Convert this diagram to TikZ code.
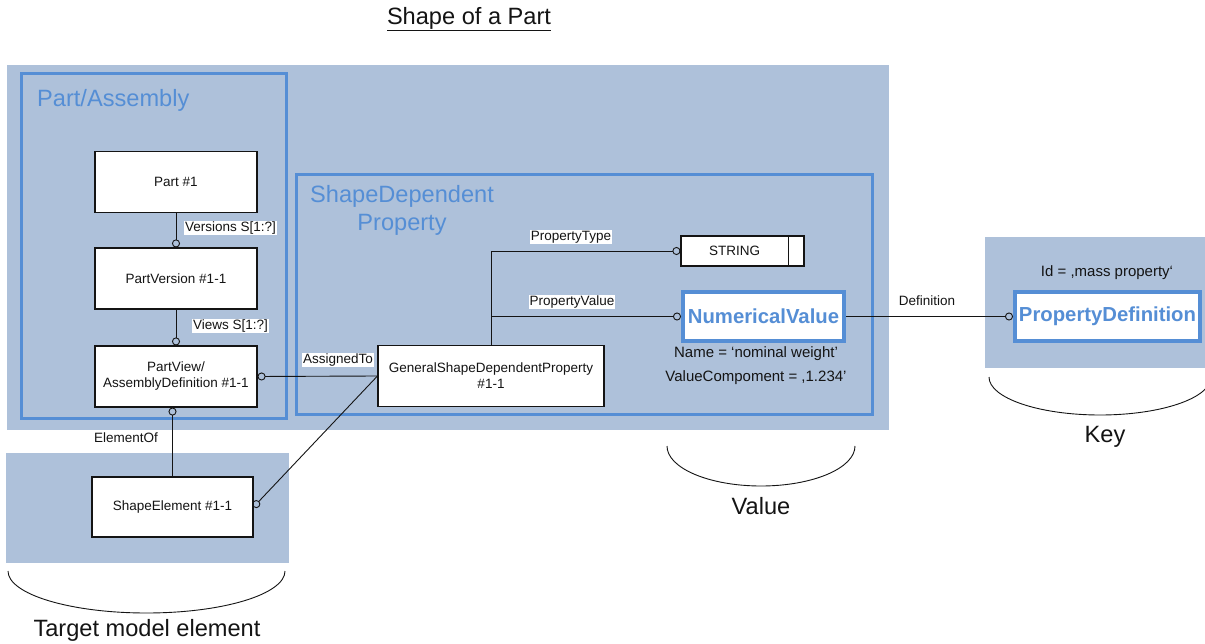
\documentclass[tikz,border=0pt]{standalone}
\usepackage{fontspec}
\setmainfont{Liberation Sans}
\usetikzlibrary{arrows.meta}
\definecolor{bgblue}{RGB}{174,193,218}
\definecolor{frameblue}{RGB}{85,142,213}
\definecolor{ink}{RGB}{20,20,20}
\newcommand\myfsm{\fontsize{13.5}{16}\selectfont}
\newcommand\myfmid{\fontsize{15}{18}\selectfont}
\newcommand\myfbig{\fontsize{23.6}{28}\selectfont}
\newcommand\myfbold{\fontsize{20.3}{24}\selectfont\bfseries}
\begin{document}
\begin{tikzpicture}[x=1pt,y=-1pt,
  bgrect/.style={fill=bgblue, draw=none},
  frame/.style={draw=frameblue, line width=3pt},
  box/.style={draw=ink, line width=1.1pt, fill=white, font=\myfsm, text=ink, align=center, inner sep=0pt},
  keybox/.style={draw=frameblue, line width=4pt, fill=white, font=\myfbold, text=frameblue, inner sep=0pt},
  lbl/.style={fill=white, inner sep=1pt, font=\myfsm, text=ink},
  plain/.style={inner sep=0pt, font=\myfsm, text=ink},
  note/.style={inner sep=0pt, font=\myfmid, text=ink},
  big/.style={inner sep=0pt, font=\myfbig, text=ink},
  bluetitle/.style={inner sep=0pt, font=\myfbig, text=frameblue},
  conn/.style={draw=ink, line width=0.9pt, -{Circle[open,length=8pt,width=8pt]}},
  brace/.style={draw=ink, line width=0.9pt}
]
\clip (0,0) rectangle (1205,644);
\fill[white] (0,0) rectangle (1205,644);

% backgrounds
\fill[bgrect] (7,65) rectangle (889,430);
\fill[bgrect] (6,453) rectangle (289,563);
\fill[bgrect] (985,237) rectangle (1205,368);

% frames
\draw[frame] (21,74) rectangle (286,418);
\draw[frame] (296,175) rectangle (872,414);

% titles
\node[big] (title) at (469,19) {\underline{Shape of a Part}};
\node[bluetitle, anchor=west] (pa) at (37,100) {Part/Assembly};
\node[bluetitle, align=center] (sdp) at (402,210) {ShapeDependent\\Property};

% boxes
\node[box, minimum width=162pt, minimum height=61pt] (part) at (176,182) {Part \#1};
\node[box, minimum width=162pt, minimum height=61pt] (pver) at (176,278.5) {PartVersion \#1-1};
\node[box, minimum width=162pt, minimum height=61pt] (pview) at (176,376.5) {PartView/\\AssemblyDefinition \#1-1};
\node[box, minimum width=161pt, minimum height=60pt] (shel) at (172.5,507) {ShapeElement \#1-1};
\node[box, minimum width=226pt, minimum height=61pt] (gen) at (491,376) {GeneralShapeDependentProperty\\\#1-1};
\node[box, minimum width=123pt, minimum height=30pt] (string) at (742.5,251) {\makebox[107pt]{STRING}\hspace{16pt}};
\draw[line width=1.1pt, draw=ink] ([xshift=-16pt]string.north east) -- ([xshift=-16pt]string.south east);
\node[keybox, minimum width=161pt, minimum height=49pt] (numval) at (763.5,316.5) {NumericalValue};
\node[keybox, minimum width=185pt, minimum height=49pt] (propdef) at (1107.5,316.5) {PropertyDefinition};

% connectors
\draw[conn] (part.south) -- (pver.north);
\draw[conn] (pver.south) -- (pview.north);
\draw[conn] (gen.west) -- (pview.east);
\draw[conn] (shel.north) -- (shel.north |- pview.south);
\draw[conn] (gen.west) -- (shel.east);
\draw[conn] (gen.north) |- (string.west);
\draw[conn] (gen.north |- numval.west) -- (numval.west);
\draw[conn] (numval.east) -- (propdef.west);

% labels
\node[lbl, anchor=west] (lver) at (184,228) {Versions S[1:?]};
\node[lbl, anchor=west] (lviews) at (192,326) {Views S[1:?]};
\node[lbl, anchor=west] (lassign) at (302,360) {AssignedTo};
\node[plain, anchor=west] (lelem) at (94,438) {ElementOf};
\node[lbl] (ltype) at (571,237) {PropertyType};
\node[lbl] (lvalue) at (572,302) {PropertyValue};
\node[plain] (ldef) at (927,301) {Definition};
\node[note] (lname) at (756,354) {Name = ‘nominal weight’};
\node[note] (lvc) at (756,378) {ValueCompoment = ,1.234’};
\node[note] (lid) at (1107,273) {Id = ,mass property‘};

% braces
\draw[brace] (8,571) .. controls (8,594.2) and (70,613) .. (146.5,613)
  .. controls (223,613) and (285,594.2) .. (285,571);
\draw[brace] (667,446) .. controls (667,468.1) and (709.1,486) .. (761,486)
  .. controls (812.9,486) and (855,468.1) .. (855,446);
\draw[brace] (989,377) .. controls (989,398) and (1038.7,415) .. (1100,415)
  .. controls (1161.3,415) and (1211,398) .. (1211,377);

\node[big] (ltarget) at (147,630) {Target model element};
\node[big] (lvalbig) at (761,506) {Value};
\node[big] (lkey) at (1105,437) {Key};
\end{tikzpicture}
\end{document}
